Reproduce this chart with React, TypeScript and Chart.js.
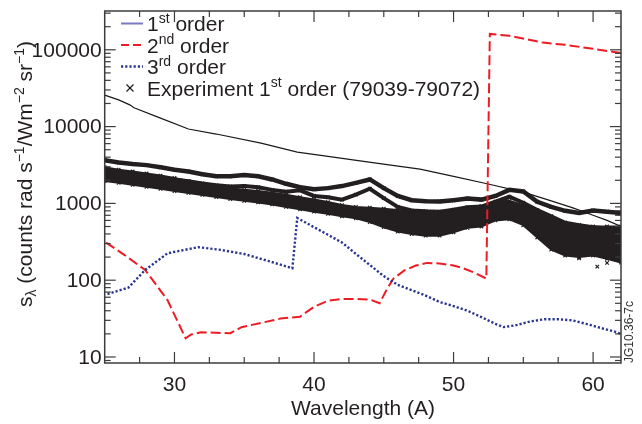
import React, { useEffect, useRef } from "react";
import { Chart, registerables } from "chart.js";

Chart.register(...registerables);

// ---------- axis ranges & ticks ----------
const X_MIN = 25;
const X_MAX = 62;
const Y_MIN = 8.35;
const Y_MAX = 320000;
const X_MAJOR = [30, 40, 50, 60];
const X_TICK_LABELS = ["30", "40", "50", "60"];
const X_MINOR = [27.5, 32.5, 35, 37.5, 42.5, 45, 47.5, 52.5, 55, 57.5];
const Y_MAJOR = [10, 100, 1000, 10000, 100000];
const Y_TICK_LABELS = ["10", "100", "1000", "10000", "100000"];

// ---------- 1st order (model) ----------
const FIRST_WL = [25, 26, 26.8, 27.1, 29, 31, 33, 36.2, 38.8, 41, 43.3, 45.5, 47.6, 50, 52.4, 55, 57, 58.5, 60, 61, 62];
const FIRST_S = [25700, 22300, 19200, 17600, 12900, 9300, 8000, 6080, 4650, 4100, 3580, 3150, 2800, 2250, 1800, 1400, 1080, 880, 700, 600, 500];

// ---------- 2nd order (model) ----------
const SECOND_WL = [25.1, 26.4, 27.9, 29.5, 30.8, 31.2, 31.9, 34.0, 34.8, 37.6, 39.0, 40.0, 41.0, 42.0, 43.0, 44.0, 44.7, 45.2, 45.7, 46.5, 47.3, 48.1, 49.0, 50.0, 50.7, 51.5, 52.35, 52.6, 54.0, 56.4, 58.0, 60.0, 62.0];
const SECOND_S = [309, 214, 136, 55, 17.5, 19.6, 21, 20.4, 24.4, 31.6, 33.5, 45, 54, 57, 57, 56, 50, 75, 105, 135, 155, 168, 165, 155, 143, 125, 105, 161000, 152000, 124000, 116000, 103000, 91000];

// ---------- 3rd order (model) ----------
const THIRD_WL = [25.2, 26.7, 27.9, 29.5, 31.7, 33.3, 35.0, 36.9, 38.45, 38.8, 40, 41, 42, 43, 44, 45, 46, 47, 48, 49, 50, 51, 52, 53, 53.6, 54.5, 55.5, 56.5, 57.5, 58.5, 59.5, 60.5, 61.5, 62];
const THIRD_S = [66, 80, 136, 224, 269, 248, 219, 174, 143, 645, 490, 390, 310, 220, 158, 113, 87, 74, 63, 52, 46, 40, 33, 27, 24.5, 26, 29, 31, 31, 30, 27, 24, 21.5, 20];

// ---------- Experiment 1st order (79039-79072) ----------
const EXP_WL = [25, 26, 27, 28, 29, 30, 31, 32, 33, 34, 35, 36, 37, 38, 39, 40, 41, 42, 43, 44, 45, 46, 47, 48, 49, 50, 51, 52, 53, 54, 55, 56, 57, 58, 59, 60, 61, 62];
const EXP_RUN_A = [3650, 3400, 3250, 3150, 2950, 2750, 2600, 2400, 2250, 2250, 2350, 2250, 2050, 1800, 1620, 1530, 1580, 1680, 1850, 2050, 1580, 1250, 1100, 1070, 1060, 1100, 1160, 1120, 1250, 1500, 1430, 1050, 900, 800, 750, 810, 780, 750];
const EXP_RUN_B = [2750, 2600, 2450, 2300, 2150, 2050, 1950, 1820, 1720, 1660, 1680, 1620, 1500, 1420, 1480, 1250, 1200, 1120, 1300, 1550, 1170, 900, 810, 790, 780, 830, 890, 910, 1050, 1220, 1020, 820, 680, 560, 520, 490, 470, 450];
const EXP_BAND_UPPER = [2950, 2750, 2600, 2450, 2300, 2150, 1950, 1800, 1680, 1570, 1500, 1450, 1380, 1300, 1200, 1120, 1040, 950, 900, 880, 850, 820, 790, 770, 770, 800, 860, 920, 1050, 1080, 950, 800, 660, 560, 520, 500, 500, 500];
const EXP_BAND_LOWER = [1950, 1850, 1750, 1650, 1550, 1450, 1370, 1290, 1210, 1140, 1080, 1030, 970, 900, 840, 780, 730, 680, 640, 570, 490, 430, 400, 380, 380, 420, 480, 500, 600, 620, 520, 360, 250, 210, 200, 210, 190, 170];
const EXP_OUTLIER_WL = [57.4, 59.0, 60.3, 61.0, 61.7];
const EXP_OUTLIER_S = [248, 193, 150, 168, 185];

const INK = "#231f20";
const RED = "#ed1c24";
const NAVY = "#2a3592";
const LAVENDER = "#7b7bc4";
const FONT = "'Liberation Sans', Arial, Helvetica, sans-serif";

const pts = (xs: number[], ys: number[]) => xs.map((x, i) => ({ x, y: ys[i] }));

type Seg = { t: string; size: number; dy: number };

function drawRich(ctx: CanvasRenderingContext2D, segs: Seg[], x: number, y: number, align: "left" | "center") {
  let total = 0;
  const widths = segs.map((s) => {
    ctx.font = `${s.size}px ${FONT}`;
    const w = ctx.measureText(s.t).width;
    total += w;
    return w;
  });
  let cx = align === "center" ? x - total / 2 : x;
  segs.forEach((s, i) => {
    ctx.font = `${s.size}px ${FONT}`;
    ctx.fillText(s.t, cx, y + s.dy);
    cx += widths[i];
  });
}

const rootAxes = {
  id: "rootAxes",
  afterDraw(chart: any) {
    const { ctx, chartArea: a, scales } = chart;
    const xs = scales.x;
    const ys = scales.y;
    ctx.save();
    ctx.strokeStyle = "#3c3c3c";
    ctx.lineWidth = 1.5;
    ctx.strokeRect(a.left, a.top, a.right - a.left, a.bottom - a.top);
    ctx.lineWidth = 1.2;
    const seg = (x1: number, y1: number, x2: number, y2: number) => {
      ctx.beginPath();
      ctx.moveTo(x1, y1);
      ctx.lineTo(x2, y2);
      ctx.stroke();
    };
    X_MAJOR.forEach((v) => {
      const px = xs.getPixelForValue(v);
      seg(px, a.bottom, px, a.bottom - 11);
      seg(px, a.top, px, a.top + 11);
    });
    X_MINOR.forEach((v) => {
      const px = xs.getPixelForValue(v);
      seg(px, a.bottom, px, a.bottom - 6);
      seg(px, a.top, px, a.top + 6);
    });
    Y_MAJOR.forEach((v) => {
      const py = ys.getPixelForValue(v);
      seg(a.left, py, a.left + 11, py);
      seg(a.right, py, a.right - 11, py);
    });
    for (let d = 1; d <= 100000; d *= 10) {
      for (let m = 2; m <= 9; m++) {
        const v = m * d;
        if (v <= Y_MIN || v >= Y_MAX) continue;
        const py = ys.getPixelForValue(v);
        seg(a.left, py, a.left + 6, py);
        seg(a.right, py, a.right - 6, py);
      }
    }
    // tick labels
    ctx.fillStyle = INK;
    ctx.font = `21px ${FONT}`;
    ctx.textAlign = "center";
    ctx.textBaseline = "middle";
    X_MAJOR.forEach((v, i) => ctx.fillText(X_TICK_LABELS[i], xs.getPixelForValue(v), 385));
    ctx.textAlign = "right";
    Y_MAJOR.forEach((v, i) => ctx.fillText(Y_TICK_LABELS[i], a.left - 3, ys.getPixelForValue(v) + 1));
    // x title
    ctx.textAlign = "center";
    ctx.fillText("Wavelength (A)", 363, 409);
    // y title
    ctx.save();
    ctx.translate(31.5, 174);
    ctx.rotate(-Math.PI / 2);
    ctx.textAlign = "left";
    ctx.textBaseline = "alphabetic";
    drawRich(
      ctx,
      [
        { t: "s", size: 21, dy: 0 },
        { t: "λ", size: 14, dy: 4 },
        { t: " (counts rad s", size: 21, dy: 0 },
        { t: "−1", size: 14, dy: -8 },
        { t: "/Wm", size: 21, dy: 0 },
        { t: "−2", size: 14, dy: -8 },
        { t: " sr", size: 21, dy: 0 },
        { t: "−1", size: 14, dy: -8 },
        { t: ")", size: 21, dy: 0 },
      ],
      0,
      0,
      "center"
    );
    ctx.restore();
    // JG label
    ctx.save();
    ctx.translate(632.5, 363);
    ctx.rotate(-Math.PI / 2);
    ctx.font = `12px ${FONT}`;
    ctx.textAlign = "left";
    ctx.textBaseline = "alphabetic";
    ctx.fillStyle = "#333";
    ctx.fillText("JG10.36-7c", 0, 0);
    ctx.restore();
    // legend
    ctx.textAlign = "left";
    ctx.textBaseline = "alphabetic";
    const rows = [31, 52.5, 74, 95.5];
    const tx = 147;
    // row 1
    ctx.strokeStyle = LAVENDER;
    ctx.lineWidth = 2;
    ctx.setLineDash([]);
    seg(121, rows[0] - 7.5, 143, rows[0] - 7.5);
    // row 2
    ctx.strokeStyle = RED;
    ctx.setLineDash([8, 4]);
    seg(121, rows[1] - 7.5, 143, rows[1] - 7.5);
    // row 3
    ctx.strokeStyle = NAVY;
    ctx.lineWidth = 2.4;
    ctx.setLineDash([2.2, 2]);
    seg(121, rows[2] - 7.5, 143, rows[2] - 7.5);
    ctx.setLineDash([]);
    // row 4 marker
    ctx.strokeStyle = INK;
    ctx.lineWidth = 1.2;
    const mx = 130, my = rows[3] - 7.5;
    seg(mx - 3.5, my - 3.5, mx + 3.5, my + 3.5);
    seg(mx - 3.5, my + 3.5, mx + 3.5, my - 3.5);
    ctx.fillStyle = INK;
    const sup = (t: string): Seg => ({ t, size: 14, dy: -8.5 });
    const norm = (t: string): Seg => ({ t, size: 21, dy: 0 });
    drawRich(ctx, [norm("1"), sup("st"), norm(" order")], tx, rows[0], "left");
    drawRich(ctx, [norm("2"), sup("nd"), norm(" order")], tx, rows[1], "left");
    drawRich(ctx, [norm("3"), sup("rd"), norm(" order")], tx, rows[2], "left");
    drawRich(ctx, [norm("Experiment 1"), sup("st"), norm(" order (79039-79072)")], tx, rows[3], "left");
    ctx.restore();
  },
};

export default function App() {
  const ref = useRef<HTMLCanvasElement | null>(null);
  useEffect(() => {
    if (!ref.current) return;
    const expLine = (data: number[], extra: any = {}) => ({
      type: "line",
      data: pts(EXP_WL, data),
      borderColor: INK,
      backgroundColor: INK,
      pointStyle: "crossRot",
      pointRadius: 2.5,
      pointBorderWidth: 1.2,
      pointBorderColor: INK,
      tension: 0,
      order: 10,
      ...extra,
    });
    const chart = new Chart(ref.current, {
      type: "line",
      data: {
        datasets: [
          expLine(EXP_BAND_UPPER, { borderWidth: 2, fill: false }),
          expLine(EXP_BAND_LOWER, { borderWidth: 2, fill: "-1" }),
          expLine(EXP_RUN_B, { borderWidth: 4, fill: false }),
          expLine(EXP_RUN_A, { borderWidth: 4.5, fill: false }),
          {
            type: "line",
            data: pts(EXP_OUTLIER_WL, EXP_OUTLIER_S),
            showLine: false,
            pointStyle: "crossRot",
            pointRadius: 2.5,
            pointBorderWidth: 1.2,
            pointBorderColor: INK,
            order: 9,
          },
          {
            type: "line",
            data: pts(FIRST_WL, FIRST_S),
            borderColor: "#1a1a1a",
            borderWidth: 1.2,
            pointRadius: 0,
            tension: 0,
            fill: false,
            order: 3,
          },
          {
            type: "line",
            data: pts(SECOND_WL, SECOND_S),
            borderColor: RED,
            borderWidth: 2,
            borderDash: [10, 4],
            pointRadius: 0,
            tension: 0,
            fill: false,
            order: 2,
          },
          {
            type: "line",
            data: pts(THIRD_WL, THIRD_S),
            borderColor: NAVY,
            borderWidth: 2.4,
            borderDash: [2.2, 2],
            pointRadius: 0,
            tension: 0,
            fill: false,
            order: 1,
          },
        ] as any,
      },
      options: {
        responsive: false,
        maintainAspectRatio: false,
        animation: false,
        layout: { padding: { left: 104.7, right: 21, top: 11, bottom: 61 } },
        plugins: { legend: { display: false }, tooltip: { enabled: false } },
        scales: {
          x: { type: "linear", min: X_MIN, max: X_MAX, display: false },
          y: { type: "logarithmic", min: Y_MIN, max: Y_MAX, display: false },
        },
      },
      plugins: [rootAxes],
    } as any);
    return () => chart.destroy();
  }, []);
  return (
    <div style={{ position: "absolute", left: 0, top: 0, width: 642, height: 424, background: "#fff" }}>
      <canvas ref={ref} width={642} height={424} style={{ display: "block", width: 642, height: 424 }} />
    </div>
  );
}
